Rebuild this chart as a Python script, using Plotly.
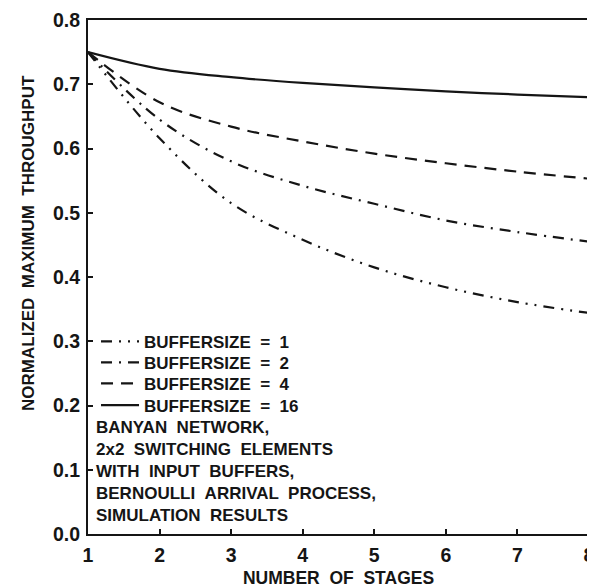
import plotly.graph_objects as go

stages = [1, 2, 3, 4, 5, 6, 7, 8]
buf1 = [0.75, 0.616, 0.515, 0.458, 0.415, 0.384, 0.361, 0.344]
buf2 = [0.75, 0.645, 0.580, 0.542, 0.514, 0.488, 0.470, 0.455]
buf4 = [0.75, 0.672, 0.634, 0.611, 0.592, 0.577, 0.564, 0.553]
buf16 = [0.75, 0.724, 0.711, 0.702, 0.695, 0.689, 0.684, 0.680]

series_names = ["BUFFERSIZE \u00a0= \u00a01", "BUFFERSIZE \u00a0= \u00a02",
                "BUFFERSIZE \u00a0= \u00a04", "BUFFERSIZE \u00a0= \u00a016"]
x_ticks = [1, 2, 3, 4, 5, 6, 7, 8]
y_ticks = [0.0, 0.1, 0.2, 0.3, 0.4, 0.5, 0.6, 0.7, 0.8]
note_lines = ["BANYAN \u00a0NETWORK,", "2x2 \u00a0SWITCHING \u00a0ELEMENTS",
              "WITH \u00a0INPUT \u00a0BUFFERS,", "BERNOULLI \u00a0ARRIVAL \u00a0PROCESS,",
              "SIMULATION \u00a0RESULTS"]

FONT = "Liberation Sans, Arial, sans-serif"
INK = "#151515"

dashes = ["11px,7px,2px,7px,2px,7px", "11px,7px,2px,7px", "12px,8px", "solid"]
data = [buf1, buf2, buf4, buf16]
legend_ids = ["legend", "legend2", "legend3", "legend4"]
legend_y = [0.374, 0.333, 0.292, 0.250]

fig = go.Figure()
for name, ys, d, lg in zip(series_names, data, dashes, legend_ids):
    fig.add_trace(go.Scatter(
        x=stages, y=ys, mode="lines", name=name, legend=lg,
        line=dict(color=INK, width=2.2, dash=d, shape="spline", smoothing=1.0),
        hoverinfo="skip"))

axis_common = dict(
    showline=True, linecolor=INK, linewidth=2, mirror=True,
    ticks="inside", ticklen=5, tickwidth=1.5, tickcolor=INK,
    showgrid=False, zeroline=False, automargin=False,
    ticklabeloverflow="allow",
    tickfont=dict(family=FONT, size=19.5, color=INK, weight="bold"),
)

fig.update_xaxes(range=[1, 8], tickvals=x_ticks, ticktext=[str(v) for v in x_ticks],
                 ticklabelstandoff=3,
                 title=dict(text="NUMBER \u00a0OF \u00a0STAGES",
                            font=dict(family=FONT, size=17.5, color=INK, weight="bold"),
                            standoff=8),
                 **axis_common)
fig.update_yaxes(range=[0, 0.8], tickvals=y_ticks, ticktext=[f"{v:.1f}" for v in y_ticks],
                 ticklabelstandoff=2,
                 **axis_common)

fig.add_annotation(text="NORMALIZED \u00a0MAXIMUM \u00a0THROUGHPUT", textangle=-90,
                   xref="paper", yref="paper", x=-0.12, y=0.566,
                   xanchor="center", yanchor="middle", showarrow=False,
                   font=dict(family=FONT, size=17, color=INK, weight="bold"))

fig.add_annotation(text="<br>".join(note_lines), align="left",
                   xref="paper", yref="paper", x=0.012, y=0.2297,
                   xanchor="left", yanchor="top", showarrow=False,
                   font=dict(family=FONT, size=17, color=INK, weight="bold"))

legend_font = dict(family=FONT, size=17, color=INK, weight="bold")
layout_legends = {}
for lg, ly in zip(legend_ids, legend_y):
    layout_legends[lg] = dict(x=0.016, y=ly, xanchor="left", yanchor="middle",
                              bgcolor="rgba(0,0,0,0)", borderwidth=0,
                              font=legend_font, itemwidth=38)

fig.update_layout(
    width=587, height=580,
    margin=dict(l=80, r=6, t=12, b=54),
    plot_bgcolor="white", paper_bgcolor="white",
    showlegend=True,
    **layout_legends,
)

fig.write_html("out.html")
